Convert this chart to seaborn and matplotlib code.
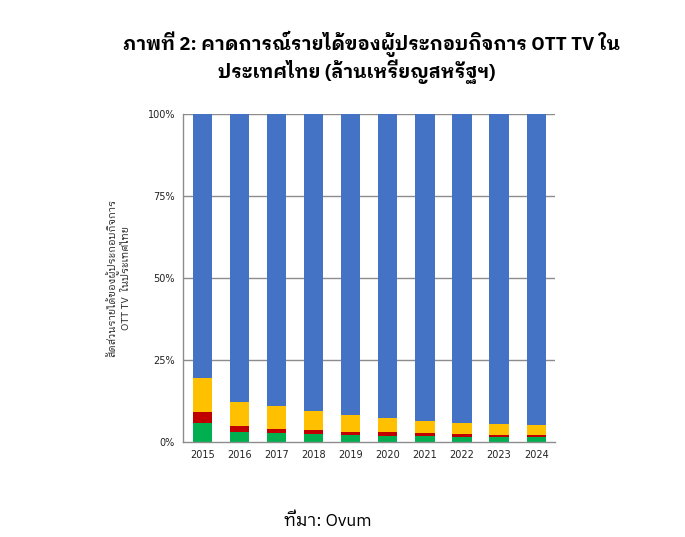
import numpy as np
import pandas as pd
import matplotlib
matplotlib.use("Agg")
import matplotlib.pyplot as plt
import seaborn as sns

years = ["2015", "2016", "2017", "2018", "2019", "2020", "2021", "2022", "2023", "2024"]
green = [5.9, 3.1, 2.7, 2.4, 2.1, 1.8, 1.8, 1.5, 1.5, 1.5]
red = [3.2, 1.8, 1.3, 1.3, 1.0, 1.3, 0.9, 0.9, 0.6, 0.6]
yellow = [10.5, 7.3, 7.1, 5.8, 5.1, 4.2, 3.7, 3.4, 3.4, 3.1]

sns.set_theme(style="white")
plt.rcParams['font.family'] = ['IBM Plex Sans Thai Looped', 'Noto Sans Thai Looped', 'DejaVu Sans']

df = pd.DataFrame({"year": years, "green": green, "red": red, "yellow": yellow})
df["blue"] = 100 - df["green"] - df["red"] - df["yellow"]

fig = plt.figure(figsize=(6.85, 5.37), dpi=100)
ax = fig.add_axes([0.2676, 0.177, 0.5428, 0.611])
ax.set_axisbelow(True)

for v in [25, 50, 75, 100]:
    ax.axhline(v, color="#8c8c8c", lw=1.0, zorder=0)

cols = [("green", "#00B050"), ("red", "#C00000"), ("yellow", "#FFC000"), ("blue", "#4472C4")]
bottom = np.zeros(len(df))
for name, c in cols:
    sns.barplot(x="year", y=name, data=df, color=c, width=0.52, ax=ax,
                bottom=bottom, saturation=1, linewidth=0, edgecolor="none", zorder=2)
    bottom = bottom + df[name].values

ax.set_xlim(-0.51, 9.51)
ax.set_ylim(0, 100)
ax.set_yticks([0, 25, 50, 75, 100])
ax.set_yticklabels(["0%", "25%", "50%", "75%", "100%"])
ax.tick_params(axis="both", labelsize=7, length=0, pad=6, colors="#222222")
for lab in ax.get_xticklabels() + ax.get_yticklabels():
    lab.set_family("DejaVu Sans")
for s in ["top", "right"]:
    ax.spines[s].set_visible(False)
for s in ["left", "bottom"]:
    ax.spines[s].set_color("#8c8c8c")
    ax.spines[s].set_linewidth(1.0)
ax.set_xlabel("")
ax.set_ylabel("สัดส่วนรายได้ของผู้ประกอบกิจการ\nOTT TV  ในประเทศไทย", fontsize=7.5,
              labelpad=12, linespacing=1.3)

fig.text(0.543, 0.918, "ภาพที่ 2: คาดการณ์รายได้ของผู้ประกอบกิจการ OTT TV ใน", ha="center", va="center",
         fontsize=13.5, fontweight="bold", color="black")
fig.text(0.521, 0.866, "ประเทศไทย (ล้านเหรียญสหรัฐฯ)", ha="center", va="center",
         fontsize=13.5, fontweight="bold", color="black")
fig.text(0.479, 0.03, "ที่มา: Ovum", ha="center", va="center", fontsize=12.5, color="black")

fig.savefig("out.png", dpi=100)
